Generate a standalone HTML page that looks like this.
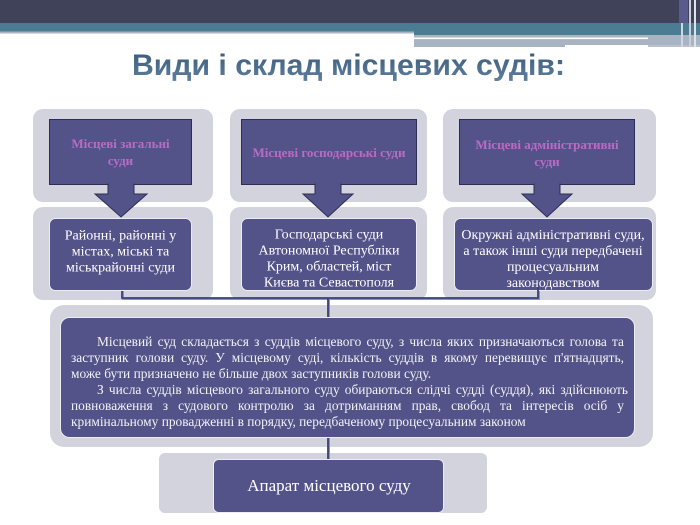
<!DOCTYPE html>
<html>
<head>
<meta charset="utf-8">
<style>
  html, body { margin: 0; padding: 0; background: #ffffff; }
  body { width: 700px; height: 525px; overflow: hidden; position: relative; }
  svg { display: block; position: absolute; left: 0; top: 0; }
  .lbl { font-family: "Liberation Serif", "DejaVu Serif", serif; font-weight: bold; font-size: 13px; fill: #b86cc4; }
  .bx { font-family: "Liberation Serif", "DejaVu Serif", serif; font-size: 14px; fill: #ffffff; }
  .para { position: absolute; left: 71px; top: 334px; font-family: "Liberation Serif", "DejaVu Serif", serif; font-size: 13.4px; line-height: 16px; color: #f2f2f6; }
  .para div { width: 553px; height: 16px; overflow: visible; text-align: left; }
  .para .j { text-align: justify; text-align-last: justify; }
  .para .ind { text-indent: 26px; }
</style>
</head>
<body>
<svg width="700" height="525" viewBox="0 0 700 525" xmlns="http://www.w3.org/2000/svg">
  <defs>
    <linearGradient id="tg" x1="0" y1="0" x2="0" y2="1">
      <stop offset="0" stop-color="#3a5878"/>
      <stop offset="1" stop-color="#5f809e"/>
    </linearGradient>
  </defs>

  <!-- Header bands -->
  <rect x="0" y="0" width="700" height="23" fill="#3f4258"/>
  <rect x="0" y="23" width="414" height="8.5" fill="#4b7d92"/>
  <rect x="0" y="31.5" width="414" height="2" fill="#aab4c6"/>
  <rect x="414" y="23" width="286" height="12" fill="#4b7d92"/>
  <rect x="414" y="35" width="286" height="10" fill="#a8b3c3"/>
  <rect x="414" y="37.5" width="234" height="1.6" fill="#ffffff"/>
  <rect x="414" y="45" width="151" height="2" fill="#a8b3c3"/>
  <rect x="648" y="45" width="52" height="2" fill="#b8c0cd"/>
  <rect x="679" y="0" width="9" height="23" fill="#595a8e"/>
  <rect x="681" y="23" width="2" height="24" fill="#d2d6e0"/>
  <rect x="689" y="0" width="2" height="47" fill="#c9cdd9"/>
  <rect x="694" y="0" width="2" height="47" fill="#dfe2ea"/>

  <!-- Title -->
  <text x="132" y="75" font-family="Liberation Sans, DejaVu Sans, sans-serif" font-size="30" font-weight="bold" fill="url(#tg)" textLength="433" lengthAdjust="spacingAndGlyphs">Види і склад місцевих судів:</text>

  <!-- Grey panels -->
  <rect x="33" y="109" width="180" height="93" rx="10" fill="#d3d3dd"/>
  <rect x="230" y="109" width="197" height="93" rx="10" fill="#d3d3dd"/>
  <rect x="443" y="109" width="213" height="93" rx="10" fill="#d3d3dd"/>
  <rect x="33" y="207" width="180" height="93" rx="10" fill="#d3d3dd"/>
  <rect x="230" y="207" width="197" height="93" rx="10" fill="#d3d3dd"/>
  <rect x="443" y="207" width="213" height="93" rx="10" fill="#d3d3dd"/>
  <rect x="50" y="305" width="603" height="142" rx="14" fill="#d3d3dd"/>
  <rect x="159" y="453" width="328" height="60" rx="6" fill="#d3d3dd"/>

  <!-- Top dark boxes -->
  <rect x="49.5" y="119.5" width="142" height="65" fill="#535289" stroke="#2e2d55" stroke-width="1"/>
  <rect x="241.5" y="119.5" width="175" height="65" fill="#535289" stroke="#2e2d55" stroke-width="1"/>
  <rect x="459.5" y="119.5" width="175" height="65" fill="#535289" stroke="#2e2d55" stroke-width="1"/>

  <!-- Arrows -->
  <polygon points="108,184 108,194 95,194 121,217 147,194 134,194 134,184" fill="#535289" stroke="#2e2d55" stroke-width="1"/>
  <rect x="108.5" y="182" width="25" height="3" fill="#535289"/>
  <polygon points="315,184 315,194 303,194 328,217 353,194 341,194 341,184" fill="#535289" stroke="#2e2d55" stroke-width="1"/>
  <rect x="315.5" y="182" width="25" height="3" fill="#535289"/>
  <polygon points="534,184 534,194 522,194 547,217 572,194 560,194 560,184" fill="#535289" stroke="#2e2d55" stroke-width="1"/>
  <rect x="534.5" y="182" width="25" height="3" fill="#535289"/>

  <!-- Top labels -->
  <text class="lbl" x="120.5" y="148" text-anchor="middle">Місцеві загальні</text>
  <text class="lbl" x="120.5" y="165" text-anchor="middle">суди</text>
  <text class="lbl" x="329" y="157" text-anchor="middle">Місцеві господарські суди</text>
  <text class="lbl" x="547" y="149" text-anchor="middle">Місцеві адміністративні</text>
  <text class="lbl" x="547" y="166" text-anchor="middle">суди</text>

  <!-- Connectors (shadow + line) -->
  <g fill="none">
    <path d="M123 290 V299 H539 V289 M329 299 V318 M329 437 V460" stroke="#8e91b4" stroke-width="2"/>
    <path d="M122 289 V298 H538 V288 M328 298 V318 M328 436 V460" stroke="#3a4177" stroke-width="1.8"/>
  </g>

  <!-- Lower boxes -->
  <rect x="49.5" y="218.5" width="142" height="72" rx="6" fill="#535289" stroke="#ececf4" stroke-width="1"/>
  <rect x="241.5" y="218.5" width="175" height="72" rx="6" fill="#535289" stroke="#ececf4" stroke-width="1"/>
  <rect x="454.5" y="218.5" width="198" height="72" rx="6" fill="#535289" stroke="#ececf4" stroke-width="1"/>
  <path d="M538 284 V291" stroke="#3a4177" stroke-width="1.8" fill="none"/>

  <text class="bx" x="120.5" y="239.5" text-anchor="middle">Районні, районні у</text>
  <text class="bx" x="120.5" y="255.5" text-anchor="middle">містах, міські та</text>
  <text class="bx" x="120.5" y="271.5" text-anchor="middle">міськрайонні суди</text>

  <text class="bx" x="329" y="238.5" text-anchor="middle">Господарські суди</text>
  <text class="bx" x="329" y="254.5" text-anchor="middle">Автономної Республіки</text>
  <text class="bx" x="329" y="270.5" text-anchor="middle">Крим, областей, міст</text>
  <text class="bx" x="329" y="286.5" text-anchor="middle">Києва та Севастополя</text>

  <text class="bx" x="553" y="239" text-anchor="middle">Окружні адміністративні суди,</text>
  <text class="bx" x="553" y="255" text-anchor="middle">а також інші суди передбачені</text>
  <text class="bx" x="553" y="271" text-anchor="middle">процесуальним</text>
  <text class="bx" x="553" y="287" text-anchor="middle">законодавством</text>

  <!-- Big box -->
  <rect x="60.5" y="317.5" width="574" height="120" rx="9" fill="#535289" stroke="#ececf4" stroke-width="1"/>

  <!-- Bottom box -->
  <rect x="213.5" y="459.5" width="230" height="53" rx="5" fill="#535289" stroke="#ececf4" stroke-width="1"/>
  <text x="329" y="491" text-anchor="middle" font-family="Liberation Serif, DejaVu Serif, serif" font-size="17" fill="#ffffff">Апарат місцевого суду</text>
</svg>

<div class="para">
  <div class="j ind">Місцевий суд складається з суддів місцевого суду, з числа яких призначаються голова та</div>
  <div class="j">заступник голови суду. У місцевому суді, кількість суддів в якому перевищує п'ятнадцять,</div>
  <div>може бути призначено не більше двох заступників голови суду.</div>
  <div class="j ind" style="width:557px">З числа суддів місцевого загального суду обираються слідчі судді (суддя), які здійснюють</div>
  <div class="j">повноваження з судового контролю за дотриманням прав, свобод та інтересів осіб у</div>
  <div>кримінальному провадженні в порядку, передбаченому процесуальним законом</div>
</div>
</body>
</html>
